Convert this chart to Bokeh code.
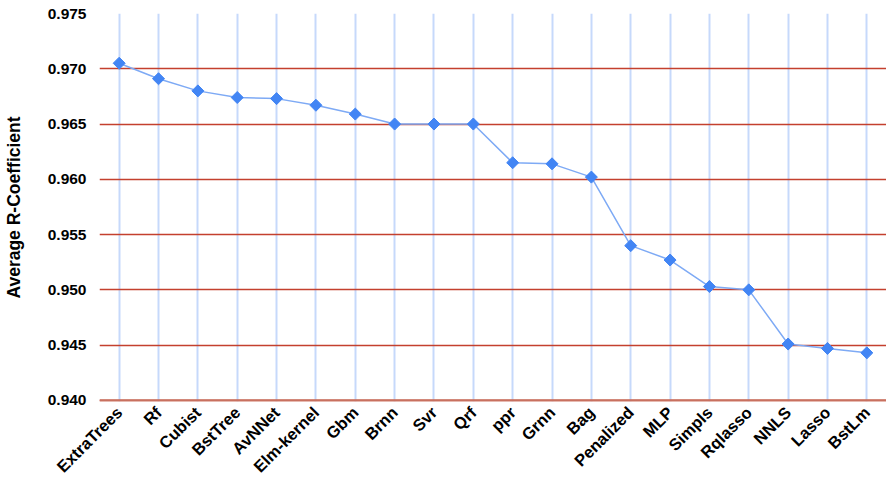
import math
from bokeh.plotting import figure
from bokeh.models import ColumnDataSource, Range1d, FixedTicker, PrintfTickFormatter, Span
from bokeh.embed import file_html
from bokeh.resources import INLINE

models = ["ExtraTrees", "Rf", "Cubist", "BstTree", "AvNNet", "Elm-kernel", "Gbm", "Brnn",
          "Svr", "Qrf", "ppr", "Grnn", "Bag", "Penalized", "MLP", "Simpls", "Rqlasso",
          "NNLS", "Lasso", "BstLm"]
avg_r = [0.9705, 0.9691, 0.9680, 0.9674, 0.9673, 0.9667, 0.9659, 0.9650,
         0.9650, 0.9650, 0.9615, 0.9614, 0.9602, 0.9540, 0.9527, 0.9503, 0.9500,
         0.9451, 0.9447, 0.9443]
y_ticks = [0.940, 0.945, 0.950, 0.955, 0.960, 0.965, 0.970, 0.975]

src = ColumnDataSource(dict(x=models, y=avg_r))

p = figure(x_range=models, y_range=Range1d(0.9399, 0.975), width=886, height=485,
           output_backend="svg", toolbar_location=None,
           min_border_left=97, min_border_right=0, min_border_top=13, min_border_bottom=84)
p.outline_line_color = None

p.add_layout(Span(location=y_ticks[0], dimension="width", line_color="#c8705f",
                  line_width=2.5))

p.line("x", "y", source=src, line_color="#7eaaf5", line_width=1.5)
p.scatter("x", "y", source=src, marker="square", angle=math.pi / 4, size=8.5,
          fill_color="#4285f4", line_color="#4285f4")

p.yaxis.ticker = FixedTicker(ticks=y_ticks)
p.yaxis.formatter = PrintfTickFormatter(format="%.3f")
p.yaxis.axis_label = "Average R-Coefficient"
p.yaxis.axis_label_text_font = "Liberation Sans"
p.yaxis.axis_label_text_font_style = "bold"
p.yaxis.axis_label_text_font_size = "17.5px"
p.yaxis.axis_label_text_color = "#000000"
p.yaxis.axis_label_standoff = 21

for ax in (p.xaxis, p.yaxis):
    ax.axis_line_color = None
    ax.major_tick_line_color = None
    ax.minor_tick_line_color = None
    ax.major_label_text_font = "Liberation Sans"
    ax.major_label_text_font_style = "bold"
    ax.major_label_text_color = "#000000"

p.yaxis.major_label_text_font_size = "15.5px"
p.xaxis.major_label_text_font_size = "16.5px"
p.yaxis.major_label_standoff = 7
p.xaxis.major_label_orientation = math.pi / 4
p.xaxis.major_label_standoff = 2

p.ygrid.grid_line_color = "#c4402e"
p.ygrid.grid_line_width = 1.5
p.xgrid.grid_line_color = "#c6d9fb"
p.xgrid.grid_line_width = 2

open("out.html", "w").write(file_html(p, INLINE))
